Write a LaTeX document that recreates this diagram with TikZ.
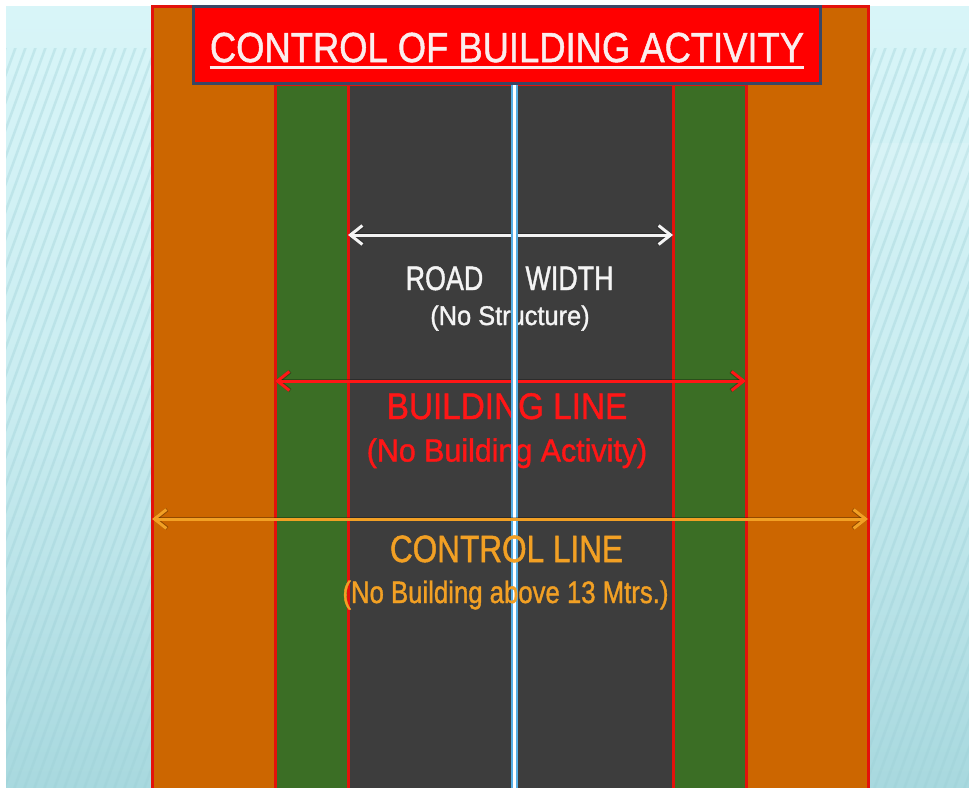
\documentclass[tikz,border=0pt]{standalone}
\usepackage{fontspec}
\setmainfont{Liberation Sans}
\newfontfamily\lblfont{Liberation Sans}[FakeBold=1.3]
\usepackage{graphicx}
\usetikzlibrary{arrows.meta}

\definecolor{sky}{HTML}{D8F5F8}
\definecolor{skylow}{HTML}{A7D8DE}
\definecolor{stripe}{HTML}{9CCFD6}
\definecolor{verge}{HTML}{CC6600}
\definecolor{grass}{HTML}{3B6E25}
\definecolor{asphalt}{HTML}{3D3D3D}
\definecolor{edge}{HTML}{E3120B}
\definecolor{banner}{HTML}{FF0000}
\definecolor{bannerrim}{HTML}{3A4766}
\definecolor{bannertext}{HTML}{FBEDED}
\definecolor{laneblue}{HTML}{55AEE6}
\definecolor{roadwhite}{HTML}{F4F4F4}
\definecolor{buildred}{HTML}{FF1616}
\definecolor{ctrlorange}{HTML}{F2A024}

% size (px), horizontal squeeze, text
\newcommand\lbl[3]{\scalebox{#2}[1]{\lblfont\fontsize{#1}{#1}\selectfont #3}}

\tikzset{
  band/.style={fill=#1, draw=edge, line width=3pt},
  txt/.style={anchor=base, inner sep=0pt, text=#1},
  dimline/.style={draw=#1, line width=3pt,
    {Straight Barb[length=12pt,width=19pt]}-{Straight Barb[length=12pt,width=19pt]}},
  dimshadow/.style={draw=black, opacity=0.28, line width=4pt, shift={(2,4)},
    {Straight Barb[length=12pt,width=19pt]}-{Straight Barb[length=12pt,width=19pt]}},
}

\begin{document}
\begin{tikzpicture}[x=1pt,y=-1pt]
\useasboundingbox (0,0) rectangle (969,787);
\fill[white] (0,0) rectangle (969,787);

% sky background with diagonal streaks
\shade[top color=sky, bottom color=skylow, middle color=sky!70!skylow]
  (6,6) rectangle (980,800);
\begin{scope}
  \clip (6,48) rectangle (152,800) (868,48) rectangle (980,800);
  \foreach \s in {-300,-290,...,970}
    \draw[stripe, line width=2.5pt, opacity=0.35] (\s,800) -- (\s+293,0);
  \fill[white, opacity=0.12] (868,143) rectangle (980,220);
\end{scope}

% road corridor: verges, green strips, carriageway
\path[band=verge]   (152,6)  rectangle (868,800);
\path[band=grass]   (275,84) rectangle (746,800);
\path[band=asphalt] (348,84) rectangle (673,800);

% arrow end points
\coordinate (rw-l) at (348,235);  \coordinate (rw-r) at (673,235);
\coordinate (bl-l) at (275,381);  \coordinate (bl-r) at (746,381);
\coordinate (cl-l) at (152,519);  \coordinate (cl-r) at (868,519);

% road width
\draw[dimshadow] (rw-l) -- (rw-r);
\draw[dimline=roadwhite] (rw-l) -- (rw-r);
\node[txt=roadwhite] (road)  at (444.5,290) {\lbl{34}{0.79}{ROAD}};
\node[txt=roadwhite] (width) at (569.5,290) {\lbl{34}{0.79}{WIDTH}};
\node[txt=roadwhite] (nostruct) at (510,325) {\lbl{27}{0.94}{(No Structure)}};

% building line
\draw[dimshadow] (bl-l) -- (bl-r);
\draw[dimline=buildred] (bl-l) -- (bl-r);
\node[txt=buildred] (bline) at (507,419) {\lbl{37}{0.9}{BUILDING LINE}};
\node[txt=buildred] (bnote) at (507,461.5) {\lbl{32}{0.95}{(No Building Activity)}};

% centre line of the road
\coordinate (cen-top) at (514.5,84);
\coordinate (cen-bot) at (514.5,800);
\draw[laneblue, line width=7pt] (cen-top) -- (cen-bot);
\draw[white, line width=3.5pt] (cen-top) -- (cen-bot);

% control line
\draw[dimshadow] (cl-l) -- (cl-r);
\draw[dimline=ctrlorange] (cl-l) -- (cl-r);
\node[txt=ctrlorange] (cline) at (506.5,562) {\lbl{38}{0.83}{CONTROL LINE}};
\node[txt=ctrlorange] (cnote) at (505.5,603) {\lbl{31}{0.83}{(No Building above 13 Mtrs.)}};

% title banner
\node[draw=bannerrim, fill=banner, line width=3pt, minimum width=627pt,
      minimum height=77pt, inner sep=0pt] (banner) at (506.5,45) {};
\node[txt=bannertext] (title) at (507,62) {\lbl{42}{0.866}{CONTROL OF BUILDING ACTIVITY}};
\draw[bannertext, line width=2.5pt] ([yshift=-5.5pt]title.base west) -- ([yshift=-5.5pt]title.base east);
\end{tikzpicture}
\end{document}
